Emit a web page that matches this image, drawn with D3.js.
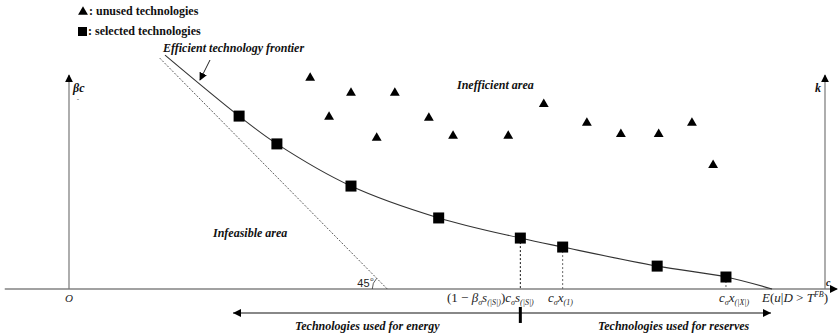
<!DOCTYPE html>
<html>
<head>
<meta charset="utf-8">
<script src="https://cdn.jsdelivr.net/npm/d3@7"></script>
<style>
  body { margin: 0; background: #fff; }
  svg { display: block; }
  .lbl { font-family: "Liberation Serif", serif; font-weight: bold; font-style: italic; font-size: 12px; fill: #111; }
  .math { font-family: "Liberation Serif", serif; font-style: italic; font-size: 13px; fill: #222; }
</style>
</head>
<body>
<div id="chart"></div>
<script>
var svgWidth = 838;
var svgHeight = 333;

// selected technologies on the frontier (cost share, capacity share)
var selectedX = [22.5, 27.5, 37.3, 48.9, 59.7, 65.3, 77.8, 86.9];
var selectedY = [80.8, 67.8, 48.1, 33.2, 23.8, 19.6, 10.7, 5.6];

// unused technologies in the inefficient area
var unusedX = [31.9, 37.3, 43.1, 34.4, 47.6, 40.7, 50.8, 58.1, 62.8, 68.5, 73.0, 78.0, 82.4, 85.2];
var unusedY = [98.6, 91.6, 91.6, 80.4, 79.9, 70.6, 71.5, 71.5, 86.4, 77.6, 72.4, 72.4, 77.6, 57.9];

// frontier ends and the 45 degree bound
var frontierStart = [12.7, 109.3];
var frontierEnd = [93.0, 0];
var boundStart = [12.0, 107.9];
var boundEnd = [42.1, 0];

var svg = d3.select("#chart").append("svg")
  .attr("width", svgWidth)
  .attr("height", svgHeight);

var x = d3.scaleLinear().domain([0, 100]).range([69, 825]);
var y = d3.scaleLinear().domain([0, 100]).range([289, 75]);

var defs = svg.append("defs");
defs.append("marker")
  .attr("id", "arr")
  .attr("viewBox", "0 0 10 10")
  .attr("refX", 9).attr("refY", 5)
  .attr("markerWidth", 8).attr("markerHeight", 8)
  .attr("markerUnits", "userSpaceOnUse")
  .attr("orient", "auto-start-reverse")
  .append("path")
  .attr("d", "M0,0L10,5L0,10Z")
  .attr("fill", "#000");

// horizontal axis
svg.append("line")
  .attr("x1", x(-8.5)).attr("x2", x(101.6))
  .attr("y1", y(0)).attr("y2", y(0))
  .attr("stroke", "#444").attr("stroke-width", 1.2)
  .attr("marker-end", "url(#arr)");

// left and right vertical axes
[0, 100].forEach(function(v) {
  svg.append("line")
    .attr("x1", x(v)).attr("x2", x(v))
    .attr("y1", y(0)).attr("y2", y(100))
    .attr("stroke", "#777").attr("stroke-width", 1.2)
    .attr("marker-end", "url(#arr)");
});

// 45 degree bound (dashed)
svg.append("line")
  .attr("x1", x(boundStart[0])).attr("y1", y(boundStart[1]))
  .attr("x2", x(boundEnd[0])).attr("y2", y(boundEnd[1]))
  .attr("stroke", "#333").attr("stroke-width", 0.8)
  .attr("stroke-dasharray", "2,1.5");

// 45 degree arc
var cx0 = x(boundEnd[0]), cy0 = y(0), r = 15;
svg.append("path")
  .attr("d", "M" + (cx0 - r) + "," + cy0 + " A" + r + "," + r + " 0 0 1 " +
    (cx0 - r * Math.SQRT1_2) + "," + (cy0 - r * Math.SQRT1_2))
  .attr("fill", "none").attr("stroke", "#333").attr("stroke-width", 0.8);
svg.append("text")
  .attr("x", cx0 - 30).attr("y", cy0 - 2)
  .attr("font-family", "Liberation Sans, sans-serif").attr("font-size", 11).attr("fill", "#222")
  .text("45");
svg.append("text")
  .attr("x", cx0 - 17).attr("y", cy0 - 8)
  .attr("font-family", "Liberation Sans, sans-serif").attr("font-size", 6).attr("fill", "#222")
  .text("o");

// frontier curve
var pts = [frontierStart].concat(selectedX.map(function(d, i) { return [d, selectedY[i]]; }), [frontierEnd]);
var line = d3.line()
  .x(function(d) { return x(d[0]); })
  .y(function(d) { return y(d[1]); })
  .curve(d3.curveCatmullRom);
svg.append("path")
  .attr("d", line(pts))
  .attr("fill", "none").attr("stroke", "#333").attr("stroke-width", 1.1);

// dotted drop lines
[4, 5, 7].forEach(function(i) {
  svg.append("line")
    .attr("x1", x(selectedX[i])).attr("x2", x(selectedX[i]))
    .attr("y1", y(selectedY[i])).attr("y2", y(0))
    .attr("stroke", i === 4 ? "#111" : "#666").attr("stroke-width", 1)
    .attr("stroke-dasharray", "2,2");
});

// squares
svg.selectAll("rect.sel")
  .data(selectedX)
  .enter().append("rect")
  .attr("class", "sel")
  .attr("x", function(d) { return x(d) - 5.5; })
  .attr("y", function(d, i) { return y(selectedY[i]) - 5.5; })
  .attr("width", 11).attr("height", 11)
  .attr("fill", "#000");

// triangles
var tri = d3.symbol().type(d3.symbolTriangle).size(42);
svg.selectAll("path.unused")
  .data(unusedX)
  .enter().append("path")
  .attr("class", "unused")
  .attr("d", tri)
  .attr("transform", function(d, i) { return "translate(" + x(d) + "," + y(unusedY[i]) + ")"; })
  .attr("fill", "#000");

// legend
svg.append("path").attr("d", tri).attr("transform", "translate(83,12)").attr("fill", "#000");
svg.append("text").attr("class", "lbl").attr("x", 89).attr("y", 15)
  .style("font-style", "normal").text(": unused technologies");
svg.append("rect").attr("x", 78).attr("y", 27).attr("width", 9).attr("height", 9).attr("fill", "#000");
svg.append("text").attr("class", "lbl").attr("x", 88).attr("y", 35)
  .style("font-style", "normal").text(": selected technologies");

// area labels
svg.append("text").attr("class", "lbl").attr("x", 163).attr("y", 52).text("Efficient technology frontier");
svg.append("line")
  .attr("x1", 210).attr("y1", 60).attr("x2", 200).attr("y2", 80)
  .attr("stroke", "#222").attr("stroke-width", 1)
  .attr("marker-end", "url(#arr)");
svg.append("text").attr("class", "lbl").attr("x", 457).attr("y", 89).text("Inefficient area");
svg.append("text").attr("class", "lbl").attr("x", 213).attr("y", 237).text("Infeasible area");

// axis labels
svg.append("text").attr("class", "lbl").attr("x", 73).attr("y", 92).style("font-size", "12px").text("βc");
svg.append("text").attr("class", "lbl").attr("x", 77).attr("y", 101).style("font-size", "6px").text("-");
svg.append("text").attr("class", "lbl").attr("x", 815).attr("y", 92).style("font-size", "12px").text("k");
svg.append("text").attr("class", "lbl").attr("x", 826).attr("y", 286).style("font-size", "10px").text("c");
svg.append("text").attr("class", "math").attr("x", x(0)).attr("y", 302)
  .attr("text-anchor", "middle").style("font-size", "11px").text("O");

// cost labels under the axis
function sub(t, s, dy) {
  t.append("tspan").attr("baseline-shift", dy).style("font-size", "8px").text(s);
}
var t1 = svg.append("text").attr("class", "math").attr("x", 447).attr("y", 302);
t1.append("tspan").style("font-style", "normal").text("(1 − ");
t1.append("tspan").text("β");
sub(t1, "σ", "-3");
t1.append("tspan").text("s");
sub(t1, "(|S|)", "-3");
t1.append("tspan").style("font-style", "normal").text(")");
t1.append("tspan").text("c");
sub(t1, "σ", "-3");
t1.append("tspan").text("s");
sub(t1, "(|S|)", "-3");

var t2 = svg.append("text").attr("class", "math").attr("x", 548).attr("y", 302);
t2.append("tspan").text("c");
sub(t2, "σ", "-3");
t2.append("tspan").text("x");
sub(t2, "(1)", "-3");

var t3 = svg.append("text").attr("class", "math").attr("x", 719).attr("y", 302);
t3.append("tspan").text("c");
sub(t3, "σ", "-3");
t3.append("tspan").text("x");
sub(t3, "(|X|)", "-3");

var t4 = svg.append("text").attr("class", "math").attr("x", 762).attr("y", 302);
t4.append("tspan").text("E");
t4.append("tspan").style("font-style", "normal").text("(");
t4.append("tspan").text("u");
t4.append("tspan").style("font-style", "normal").text("|");
t4.append("tspan").text("D");
t4.append("tspan").style("font-style", "normal").text(" > ");
t4.append("tspan").text("T");
t4.append("tspan").attr("baseline-shift", "5").style("font-size", "8px").text("FB");
t4.append("tspan").style("font-style", "normal").text(")");

// energy / reserves split
var splitY = -11.2;
svg.append("line")
  .attr("x1", 233).attr("x2", 771)
  .attr("y1", y(splitY)).attr("y2", y(splitY))
  .attr("stroke", "#888").attr("stroke-width", 2);
svg.append("path").attr("d", "M233," + y(splitY) + "l8,-4v8Z").attr("fill", "#000");
svg.append("path").attr("d", "M771," + y(splitY) + "l-8,-4v8Z").attr("fill", "#000");
svg.append("line")
  .attr("x1", x(selectedX[4])).attr("x2", x(selectedX[4]))
  .attr("y1", y(splitY) - 6).attr("y2", y(splitY) + 10)
  .attr("stroke", "#000").attr("stroke-width", 3);
svg.append("text").attr("class", "lbl").attr("x", 295).attr("y", 330).text("Technologies used for energy");
svg.append("text").attr("class", "lbl").attr("x", 598).attr("y", 330).text("Technologies used for reserves");
</script>
</body>
</html>
